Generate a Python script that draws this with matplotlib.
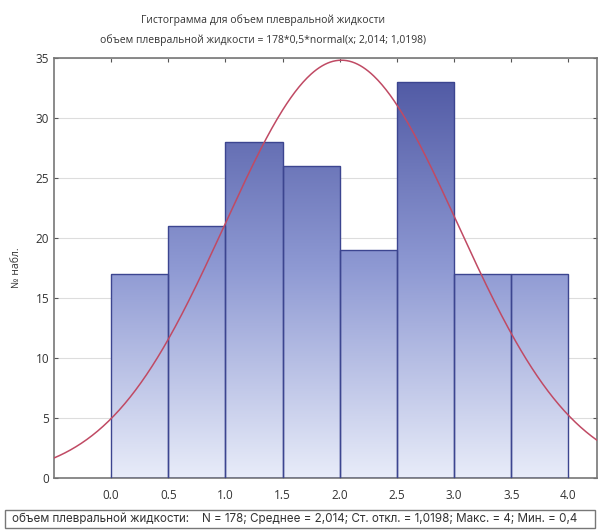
import numpy as np
import matplotlib
matplotlib.use("Agg")
import matplotlib.pyplot as plt
from matplotlib.colors import LinearSegmentedColormap
from matplotlib.patches import Rectangle

# Data
bin_left = [0.0, 0.5, 1.0, 1.5, 2.0, 2.5, 3.0, 3.5]
bin_width = 0.5
counts = [17, 21, 28, 26, 19, 33, 17, 17]
n_total = 178
mean = 2.014
sd = 1.0198
xticks = [0.0, 0.5, 1.0, 1.5, 2.0, 2.5, 3.0, 3.5, 4.0]
xticklabels = ["0.0", "0.5", "1.0", "1.5", "2.0", "2.5", "3.0", "3.5", "4.0"]
yticks = [0, 5, 10, 15, 20, 25, 30, 35]

title1 = "Гистограмма для объем плевральной жидкости"
title2 = "объем плевральной жидкости = 178*0,5*normal(x; 2,014; 1,0198)"
ylabel = "№ набл."
footer = "объем плевральной жидкости:    N = 178; Среднее = 2,014; Ст. откл. = 1,0198; Макс. = 4; Мин. = 0,4"

plt.rcParams['font.family'] = ['Open Sans', 'DejaVu Sans']

fig = plt.figure(figsize=(5.98, 5.31), dpi=100)
ax = fig.add_axes([54/598, 1-478/531, (597-54)/598, (478-58)/531])

xlim = (-0.5, 4.25)
ylim = (0, 35)
ax.set_xlim(*xlim)
ax.set_ylim(*ylim)

cmap = LinearSegmentedColormap.from_list(
    "g", [(0.0, "#e8ecf9"), (0.5, "#8e99d3"), (1.0, "#4a539f")])
grad = np.linspace(0, 1, 256).reshape(-1, 1)

ax.yaxis.grid(True, color="#dddddd", lw=0.8, zorder=0)
ax.set_axisbelow(True)

for xl, c in zip(bin_left, counts):
    rect = Rectangle((xl, 0), bin_width, c, facecolor="none", edgecolor="#3c4590", lw=1.0, zorder=3)
    ax.add_patch(rect)
    im = ax.imshow(grad, cmap=cmap, origin="lower", extent=[xlim[0], xlim[1], 0, 35],
                   aspect="auto", zorder=2, interpolation="bilinear")
    im.set_clip_path(rect)

x = np.linspace(xlim[0], xlim[1], 400)
y = n_total * bin_width / (sd * np.sqrt(2 * np.pi)) * np.exp(-0.5 * ((x - mean) / sd) ** 2)
ax.plot(x, y, color="#c04a64", lw=1.1, zorder=4, clip_on=True)

ax.set_xticks(xticks)
ax.set_xticklabels(xticklabels)
ax.set_yticks(yticks)
ax.tick_params(axis="both", direction="in", length=3, labelsize=8.5, colors="#555555",
               labelcolor="#333333", top=True, right=True)
ax.tick_params(axis="x", pad=8)
for s in ax.spines.values():
    s.set_color("#777777")
    s.set_linewidth(1.2)

ax.set_ylabel(ylabel, fontsize=7.5, color="#333333", labelpad=10)

fig.text(263/598, 1-20/531, title1, ha="center", va="center", fontsize=7.5, color="#333333")
fig.text(263/598, 1-40/531, title2, ha="center", va="center", fontsize=7.5, color="#333333")

box = Rectangle((5/598, 1-528/531), 590/598, 18/531, transform=fig.transFigure,
                facecolor="white", edgecolor="#777777", lw=1.0)
fig.add_artist(box)
fig.text(12/598, 1-519/531, footer, ha="left", va="center", fontsize=8.4,
         color="#333333", family=['Inter', 'DejaVu Sans'])

fig.savefig("out.png", dpi=100)
